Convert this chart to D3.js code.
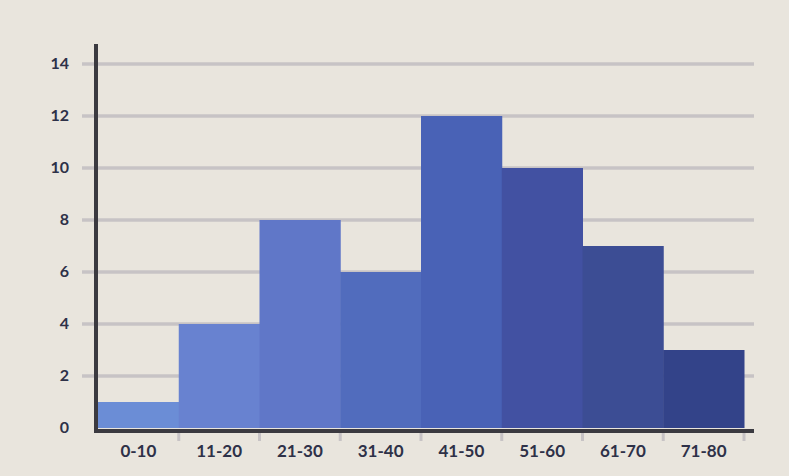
<!DOCTYPE html>
<html>
<head>
<meta charset="utf-8">
<script src="https://cdn.jsdelivr.net/npm/d3@7/dist/d3.min.js"></script>
<style>
html,body{margin:0;padding:0;background:#e9e5dd;}
svg{display:block;}
</style>
</head>
<body>
<svg id="chart" width="789" height="476"></svg>
<script>
const categories = ["0-10","11-20","21-30","31-40","41-50","51-60","61-70","71-80"];
const counts = [1,4,8,6,12,10,7,3];
const barColors = ["#6b8dd6","#6882d0","#6077c8","#516cbd","#4962b6","#4251a2","#3c4d94","#334389"];
const yTicks = [0,2,4,6,8,10,12,14];

const svg = d3.select("#chart");
const W = 789, H = 476;
svg.append("rect").attr("width",W).attr("height",H).attr("fill","#e9e5dd");

const x = d3.scaleBand().domain(categories).range([98,744]).paddingInner(0).paddingOuter(0);
const y = d3.scaleLinear().domain([0,14]).range([428,64]);

// gridlines
svg.append("g").selectAll("line").data(yTicks.filter(d=>d>0)).join("line")
  .attr("x1",82).attr("x2",754)
  .attr("y1",d=>y(d)).attr("y2",d=>y(d))
  .attr("stroke","#c7c3c5").attr("stroke-width",3.5);

// bars
svg.append("g").selectAll("rect").data(categories).join("rect")
  .attr("x",d=>x(d)).attr("width",x.bandwidth()+0.5)
  .attr("y",(d,i)=>y(counts[i])).attr("height",(d,i)=>y(0)-y(counts[i]))
  .attr("fill",(d,i)=>barColors[i]);

// x tick marks
const tickXs = categories.map(d=>x(d)+x.bandwidth());
svg.append("g").selectAll("line").data(tickXs).join("line")
  .attr("x1",d=>d).attr("x2",d=>d).attr("y1",431).attr("y2",441)
  .attr("stroke","#c7c3c5").attr("stroke-width",3);

// axes lines
svg.append("line").attr("x1",96).attr("x2",96).attr("y1",44).attr("y2",433)
  .attr("stroke","#3b3a40").attr("stroke-width",4);
svg.append("line").attr("x1",94).attr("x2",754).attr("y1",431).attr("y2",431)
  .attr("stroke","#3b3a40").attr("stroke-width",4);

// y labels
svg.append("g").selectAll("text").data(yTicks).join("text")
  .attr("x",69).attr("y",d=>y(d)-1.5).attr("text-anchor","end")
  .attr("dominant-baseline","central")
  .attr("font-family","Lato, sans-serif").attr("font-weight","bold").attr("font-size",16)
  .attr("fill","#2e3148").text(d=>d);

// x labels
svg.append("g").selectAll("text").data(categories).join("text")
  .attr("x",d=>x(d)+x.bandwidth()/2).attr("y",450).attr("text-anchor","middle")
  .attr("dominant-baseline","central")
  .attr("font-family","Lato, sans-serif").attr("font-weight","bold").attr("font-size",17)
  .attr("fill","#2e3148").text(d=>d);
</script>
</body>
</html>
